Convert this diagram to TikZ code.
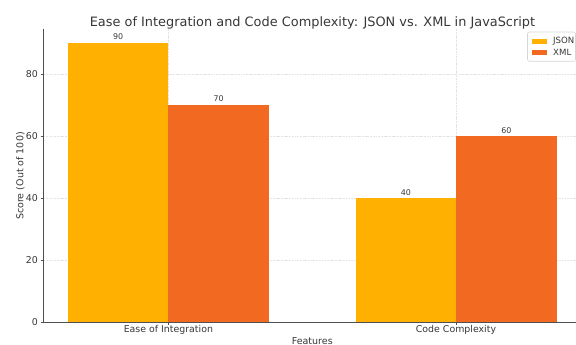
\documentclass[tikz,border=0pt]{standalone}
\usepackage{fontspec}
\setmainfont{DejaVu Sans}
\definecolor{jsoncol}{RGB}{255,176,0}
\definecolor{xmlcol}{RGB}{242,105,34}
\definecolor{axiscol}{RGB}{80,80,80}
\definecolor{gridcol}{RGB}{228,228,228}
\definecolor{txtcol}{RGB}{55,55,55}
\definecolor{legcol}{RGB}{214,214,214}
\tikzset{
  gridline/.style={draw=gridcol, line width=0.6pt, dash pattern=on 1.9pt off 0.8pt},
  spine/.style={draw=axiscol, line width=0.8pt},
  ticklbl/.style={font=\fontsize{9.4}{11}\selectfont, text=txtcol, inner sep=0pt},
  axlbl/.style={font=\fontsize{9.5}{11}\selectfont, text=txtcol, inner sep=0pt},
  barlbl/.style={font=\fontsize{7.9}{9}\selectfont, text=txtcol, inner sep=0pt, anchor=base},
  legtxt/.style={font=\fontsize{8.6}{10}\selectfont, text=txtcol, inner sep=0pt, anchor=west},
  titlelbl/.style={font=\fontsize{12.9}{15}\selectfont, text=txtcol, inner sep=0pt, anchor=base}
}
\begin{document}
\begin{tikzpicture}[x=1pt,y=-1pt]
\useasboundingbox (0,0) rectangle (576,345);
% value v sits at y = 322.3 - 3.1 v
% grid
\foreach \v in {20,40,60,80}
  \draw[gridline] (43.4,{322.3-3.1*\v}) -- (576,{322.3-3.1*\v});
\foreach \x in {168.4,456}
  \draw[gridline] (\x,29.3) -- (\x,322.3);
% bars
\fill[jsoncol] (68,43.3) rectangle (168.4,322.3);
\fill[xmlcol] (168.4,105.3) rectangle (269,322.3);
\fill[jsoncol] (355.6,198.3) rectangle (456,322.3);
\fill[xmlcol] (456,136.3) rectangle (556.6,322.3);
% bar values
\node[barlbl] (v1) at (118.2,40) {90};
\node[barlbl] (v2) at (218.7,102) {70};
\node[barlbl] (v3) at (405.8,195) {40};
\node[barlbl] (v4) at (506.3,133) {60};
% spines
\draw[spine] (43.4,29.3) -- (43.4,322.3) -- (576,322.3);
% y ticks
\foreach \v in {0,20,40,60,80} {
  \draw[spine] (40.6,{322.3-3.1*\v}) -- (43.4,{322.3-3.1*\v});
  \node[ticklbl, anchor=east] (yt\v) at (38,{322.3-3.1*\v}) {\v};
}
% x ticks
\draw[spine] (168.4,322.3) -- (168.4,325.1);
\draw[spine] (456,322.3) -- (456,325.1);
\node[ticklbl, anchor=base] (xt1) at (168.4,332.8) {Ease of Integration};
\node[ticklbl, anchor=base] (xt2) at (456,332.8) {Code Complexity};
% axis labels and title
\node[axlbl, anchor=base] (xlab) at (312.3,344.6) {Features};
\node[axlbl, rotate=90] (ylab) at (20.5,176) {Score (Out of 100)};
\node[titlelbl] (title) at (312.5,26.5) {Ease of Integration and Code Complexity: JSON vs. XML in JavaScript};
% legend
\draw[draw=legcol, fill=white, line width=0.6pt, rounded corners=2pt] (527.5,32) rectangle (575.5,61.3);
\fill[jsoncol] (531.7,39.2) rectangle (546.7,43.7);
\fill[xmlcol] (531.7,50.3) rectangle (546.7,54.8);
\node[legtxt] (lj) at (553,41.5) {JSON};
\node[legtxt] (lx) at (553,52.6) {XML};
\end{tikzpicture}
\end{document}
